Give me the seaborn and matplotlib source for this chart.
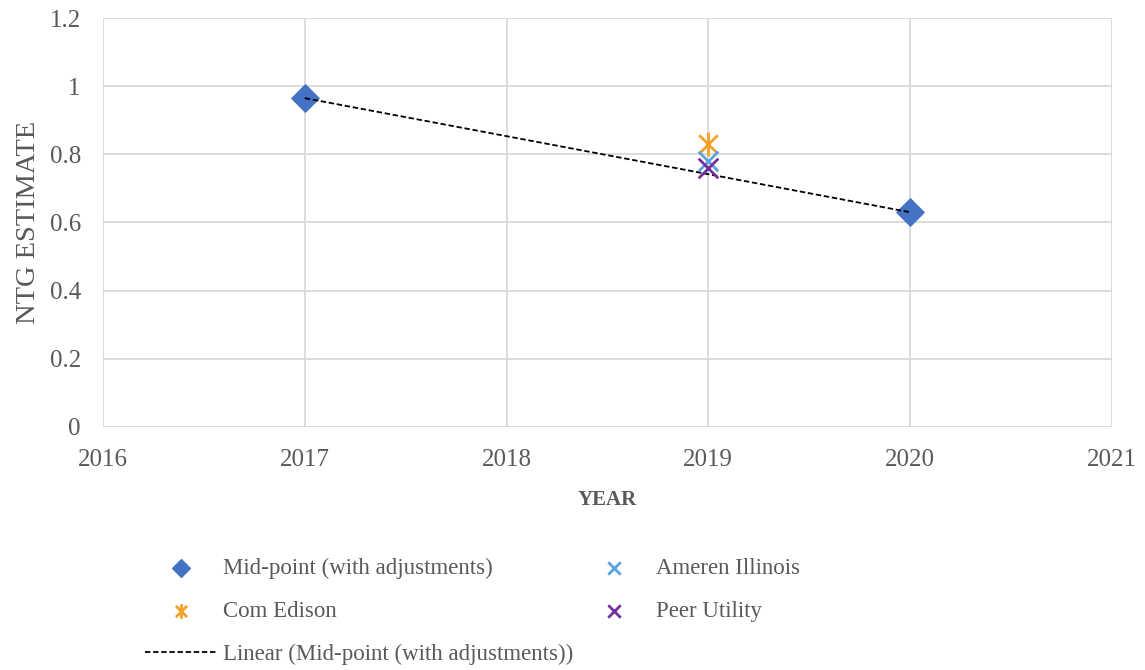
import numpy as np
import matplotlib
matplotlib.use("Agg")
import matplotlib.pyplot as plt
from matplotlib.path import Path
from matplotlib.ticker import FuncFormatter
import seaborn as sns

# Values
mid_years = [2017, 2020]
mid_ntg = [0.965, 0.63]

comed_years = [2019]
comed_ntg = [0.83]

ameren_years = [2019]
ameren_ntg = [0.78]

peer_years = [2019]
peer_ntg = [0.76]

x_ticks = [2016, 2017, 2018, 2019, 2020, 2021]
y_ticks = [0, 0.2, 0.4, 0.6, 0.8, 1.0, 1.2]

# Excel-like "star" marker: an x with a vertical bar through it
star = Path(
    [(-1, -1), (1, 1), (-1, 1), (1, -1), (0, -1.3), (0, 1.3)],
    [Path.MOVETO, Path.LINETO, Path.MOVETO, Path.LINETO, Path.MOVETO, Path.LINETO],
)

sns.set_style("whitegrid")
plt.rcParams["font.family"] = ["Liberation Serif", "DejaVu Serif"]
grey = "#595959"

fig = plt.figure(figsize=(11.45, 6.7), dpi=100)
ax = fig.add_axes([0.090, 0.363, 0.881, 0.610])

# linear trendline through the mid-point series
coef = np.polyfit(mid_years, mid_ntg, 1)
trend = np.polyval(coef, mid_years)
sns.lineplot(x=mid_years, y=trend, ax=ax, color="black", lw=1.3,
             linestyle=(0, (3, 1.5)), label="Linear (Mid-point (with adjustments))", zorder=3)

sns.scatterplot(x=mid_years, y=mid_ntg, ax=ax, marker="D", s=190, color="#4472C4",
                edgecolor="#4472C4", label="Mid-point (with adjustments)", zorder=2)
sns.scatterplot(x=comed_years, y=comed_ntg, ax=ax, marker=star, s=300, color="#F5A02A",
                edgecolor="#F5A02A", linewidth=2, label="Com Edison", zorder=4)
sns.scatterplot(x=ameren_years, y=ameren_ntg, ax=ax, marker="x", s=200, color="#5BA3E0",
                linewidth=2, label="Ameren Illinois", zorder=4)
sns.scatterplot(x=peer_years, y=peer_ntg, ax=ax, marker="x", s=200, color="#7030A0",
                linewidth=2, label="Peer Utility", zorder=4)

ax.set_xlim(2016, 2021)
ax.set_ylim(0, 1.2)
ax.set_xticks(x_ticks)
ax.set_yticks(y_ticks)
ax.yaxis.set_major_formatter(FuncFormatter(lambda v, p: f"{v:g}"))
ax.grid(True, color="#D9D9D9", lw=1.3)
for s in ax.spines.values():
    s.set_visible(False)
ax.tick_params(axis="both", length=0, labelsize=18, colors=grey)
ax.tick_params(axis="x", pad=16)
ax.tick_params(axis="y", pad=16)

ax.set_xlabel("YEAR", fontsize=15, fontweight="bold", color=grey, labelpad=14)
ax.set_ylabel("NTG ESTIMATE", fontsize=20.5, color=grey, labelpad=6)

handles, labels = ax.get_legend_handles_labels()
ax.get_legend().remove()
order = ["Mid-point (with adjustments)", "Com Edison", "Linear (Mid-point (with adjustments))",
         "Ameren Illinois", "Peer Utility"]
hmap = dict(zip(labels, handles))
leg = fig.legend([hmap[l] for l in order], order, loc="upper left",
                 bbox_to_anchor=(0.127, 0.167), ncol=2, frameon=False, fontsize=16.5,
                 handlelength=3.1, handletextpad=0.3, columnspacing=0.2,
                 labelspacing=0.95, borderpad=0, borderaxespad=0)
for t in leg.get_texts():
    t.set_color(grey)
for h, l in zip(leg.legend_handles, order):
    if hasattr(h, "set_sizes"):
        h.set_sizes([110 if l == "Com Edison" else 80])

fig.savefig("out.png", dpi=100)
